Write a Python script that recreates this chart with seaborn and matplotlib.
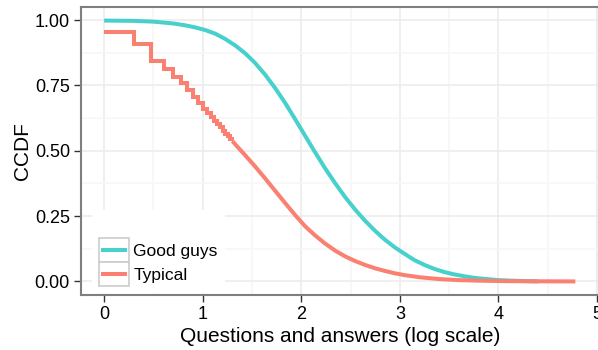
import numpy as np
import pandas as pd
import matplotlib
matplotlib.use("Agg")
import matplotlib.pyplot as plt
import seaborn as sns
from matplotlib.patches import Rectangle
from matplotlib.lines import Line2D
from matplotlib.legend_handler import HandlerBase

# ---- data -------------------------------------------------------------
series_names = ["Good guys", "Typical"]
series_colors = ["#48D1CC", "#FA8072"]

# Typical users: CCDF at small integer counts (visible steps)
typical_counts = [1, 2, 3, 4, 5, 6, 7, 8, 9, 10,
                  11, 12, 13, 14, 15, 16, 17, 18, 19, 20]
typical_step_ccdf = [0.953, 0.909, 0.844, 0.812, 0.784, 0.758, 0.731, 0.706,
                     0.683, 0.661, 0.645, 0.630, 0.615, 0.602, 0.589, 0.577,
                     0.566, 0.555, 0.545, 0.537]

# Typical users: tail, x already on log10 scale
typical_tail_log = [1.301, 1.35, 1.43, 1.531, 1.633, 1.734, 1.836, 1.937,
                    2.039, 2.14, 2.241, 2.343, 2.444, 2.546, 2.647, 2.75,
                    2.85, 2.95, 3.05, 3.2, 3.4, 3.6, 3.8, 4.1, 4.78]
typical_tail_ccdf = [0.537, 0.516, 0.483, 0.440, 0.394, 0.347, 0.300, 0.254,
                     0.211, 0.176, 0.145, 0.118, 0.096, 0.078, 0.063, 0.050,
                     0.040, 0.031, 0.024, 0.016, 0.009, 0.005, 0.003, 0.001,
                     0.0]

# Good guys: x on log10 scale
good_log = [0.0, 0.3, 0.5, 0.7, 0.82, 0.923, 1.024, 1.126, 1.227, 1.329, 1.43,
            1.531, 1.633, 1.734, 1.836, 1.937, 2.039, 2.14, 2.241, 2.343,
            2.444, 2.546, 2.647, 2.75, 2.85, 2.95, 3.05, 3.15, 3.25, 3.35,
            3.45, 3.55, 3.65, 3.75, 3.85, 4.0, 4.2, 4.4]
good_ccdf = [0.998, 0.997, 0.994, 0.987, 0.980, 0.972, 0.962, 0.948, 0.928,
             0.903, 0.873, 0.836, 0.791, 0.740, 0.683, 0.621, 0.557, 0.494,
             0.433, 0.376, 0.323, 0.275, 0.232, 0.193, 0.159, 0.130, 0.105,
             0.081, 0.063, 0.048, 0.036, 0.027, 0.020, 0.014, 0.010, 0.005,
             0.002, 0.0]

x_ticks = [0, 1, 2, 3, 4, 5]
y_ticks = [0.0, 0.25, 0.5, 0.75, 1.0]
y_tick_labels = ["0.00", "0.25", "0.50", "0.75", "1.00"]

# ---- figure -----------------------------------------------------------
sns.set_theme(style="white")
plt.rcParams["font.family"] = ["Liberation Sans", "DejaVu Sans"]
plt.rcParams["text.color"] = "black"
plt.rcParams["axes.labelcolor"] = "black"

W, H = 598, 350
fig = plt.figure(figsize=(W / 100, H / 100), dpi=100)
ax = fig.add_axes([81 / W, (H - 294.5) / H, 518 / W, 287.5 / H])

LW = 2.9
good_df = pd.DataFrame({"x": good_log, "ccdf": good_ccdf})
step_df = pd.DataFrame({"x": np.log10(typical_counts), "ccdf": typical_step_ccdf})
tail_df = pd.DataFrame({"x": typical_tail_log, "ccdf": typical_tail_ccdf})

sns.lineplot(data=good_df, x="x", y="ccdf", color=series_colors[0], lw=LW,
             ax=ax, legend=False, sort=False, zorder=3)
sns.lineplot(data=step_df, x="x", y="ccdf", color=series_colors[1], lw=LW,
             ax=ax, legend=False, sort=False, drawstyle="steps-post", zorder=3.1)
sns.lineplot(data=tail_df, x="x", y="ccdf", color=series_colors[1], lw=LW,
             ax=ax, legend=False, sort=False, zorder=3.1)
for ln in ax.lines:
    ln.set_solid_capstyle("butt")
    ln.set_solid_joinstyle("miter")

ax.set_xlim(-0.235, 5.02)
ax.set_ylim(-0.05, 1.05)
ax.set_xticks(x_ticks)
ax.set_yticks(y_ticks)
ax.set_yticklabels(y_tick_labels)
ax.set_xticks([0.5, 1.5, 2.5, 3.5, 4.5], minor=True)
ax.set_yticks([0.125, 0.375, 0.625, 0.875], minor=True)

ax.grid(True, which="major", color="#EBEBEB", lw=1.1, zorder=0)
ax.grid(True, which="minor", color="#F7F7F7", lw=1.1, zorder=0)
ax.set_axisbelow(True)
ax.tick_params(which="minor", length=0)
ax.tick_params(which="major", direction="out", length=5, width=1.0,
               color="#333333", labelsize=13, labelcolor="black",
               bottom=True, left=True)
ax.tick_params(axis="x", pad=3)
ax.tick_params(axis="y", pad=3)
for sp in ax.spines.values():
    sp.set_color("#7F7F7F")
    sp.set_linewidth(1.5)
    sp.set_zorder(6)

ax.set_xlabel("Questions and answers (log scale)", fontsize=15, labelpad=3,
              color="black")
ax.set_ylabel("CCDF", fontsize=15, labelpad=2, color="black")

# ---- legend -----------------------------------------------------------
class BoxedLineHandler(HandlerBase):
    def create_artists(self, legend, orig_handle, xdescent, ydescent,
                       width, height, fontsize, trans):
        box = Rectangle((-xdescent, -ydescent), width, height,
                        facecolor="white", edgecolor="#CCCCCC", lw=1.2,
                        transform=trans)
        inset = width * 0.08
        yc = -ydescent + height / 2
        line = Line2D([-xdescent + inset, -xdescent + width - inset], [yc, yc],
                      color=orig_handle.get_color(), lw=LW,
                      solid_capstyle="butt", transform=trans)
        return [box, line]

bg = Rectangle((92 / W, (H - 293) / H), 133 / W, 83 / H,
               transform=fig.transFigure, facecolor="white",
               edgecolor="none", zorder=4)
ax.add_patch(bg)

handles = [Line2D([], [], color=c) for c in series_colors]
fs = 12.5
fs_px = fs * 100 / 72
leg = ax.legend(handles, series_names, loc="lower left",
                bbox_to_anchor=(99 / W, (H - 286) / H),
                bbox_transform=fig.transFigure, frameon=False,
                borderpad=0, borderaxespad=0, labelspacing=0,
                handlelength=30 / fs_px, handleheight=30 / fs_px,
                handletextpad=0.25, fontsize=fs,
                handler_map={Line2D: BoxedLineHandler()})
leg.set_zorder(5)
for t in leg.get_texts():
    t.set_color("black")

fig.savefig("out.png", dpi=100)
